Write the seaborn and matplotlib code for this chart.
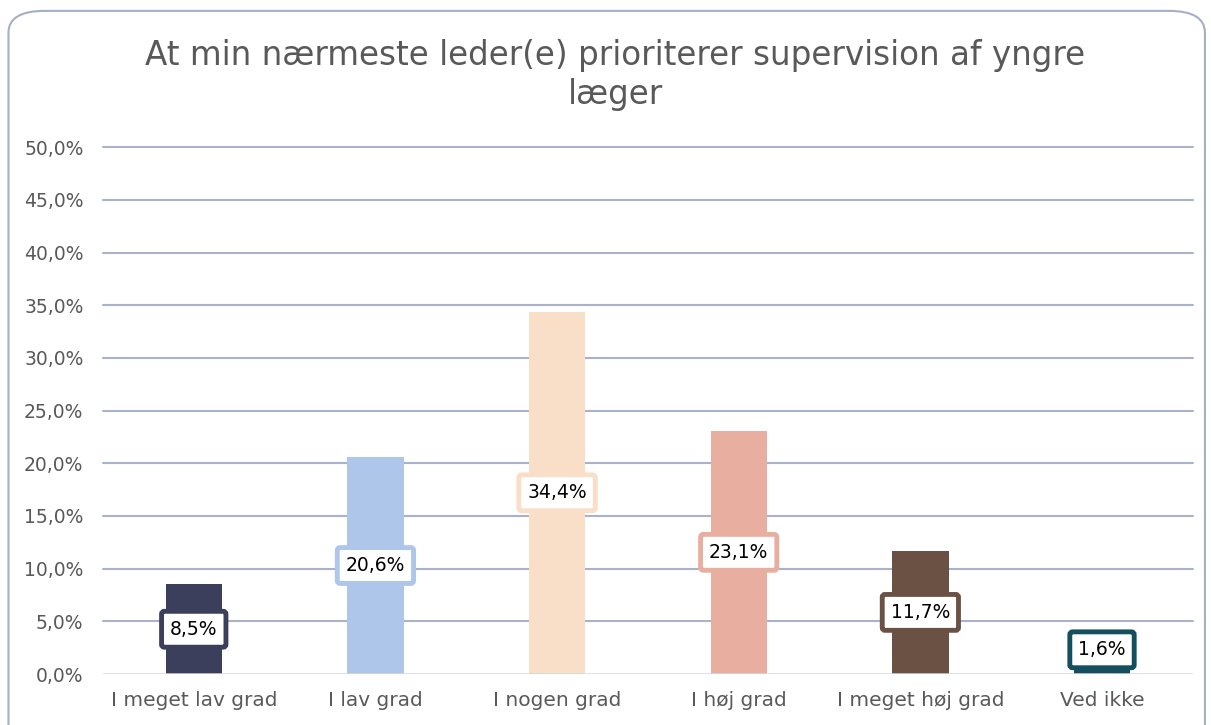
import matplotlib
matplotlib.use("Agg")
import matplotlib.pyplot as plt
import seaborn as sns
import pandas as pd
from matplotlib.patches import FancyBboxPatch

categories = ["I meget lav grad", "I lav grad", "I nogen grad", "I høj grad", "I meget høj grad", "Ved ikke"]
values = [8.5, 20.6, 34.4, 23.1, 11.7, 1.6]
colors = ["#3B3F5C", "#AEC6EA", "#F9DEC8", "#E8AFA0", "#6B5144", "#154E5F"]
yticks = [0, 5, 10, 15, 20, 25, 30, 35, 40, 45, 50]
title = "At min nærmeste leder(e) prioriterer supervision af yngre\nlæger"

sns.set_theme(style="white")
plt.rcParams['font.family'] = ['DejaVu Sans']

fig = plt.figure(figsize=(12.11, 7.25), dpi=100)
ax = fig.add_axes([0.085, 0.0703, 0.900, 0.7267])

df = pd.DataFrame({"cat": categories, "val": values})
sns.barplot(data=df, x="cat", y="val", hue="cat", palette=colors, legend=False,
            width=0.31, ax=ax, saturation=1, zorder=3, linewidth=0, edgecolor="none")

ax.set_ylim(0, 50)
ax.set_yticks(yticks)
ax.set_yticklabels([f"{t:.1f}%".replace(".", ",") for t in yticks], fontsize=13.5, color="#595959")
ax.tick_params(axis="x", labelsize=14.5, colors="#595959", length=0, pad=12)
ax.tick_params(axis="y", length=0, pad=14)
ax.set_xlabel("")
ax.set_ylabel("")
for t in yticks[1:]:
    ax.axhline(t, color="#A9B1CD", lw=1.5, zorder=1, clip_on=False)
ax.axhline(0, color="#D9D9D9", lw=1.8, zorder=4)
for s in ax.spines.values():
    s.set_visible(False)

for i, (v, c) in enumerate(zip(values, colors)):
    y = max(v / 2, 2.3)
    ax.text(i, y, f"{v:.1f}%".replace(".", ","), ha="center", va="center",
            fontsize=13.5, color="black", zorder=6,
            bbox=dict(boxstyle="round,pad=0.45,rounding_size=0.15", fc="white", ec=c, lw=3.5))

fig.text(0.508, 0.8966, title, ha="center", va="center", fontsize=23.5, color="#595959",
         linespacing=1.2)

border = FancyBboxPatch((0.007, -0.05), 0.988, 1.035, boxstyle="round,pad=0,rounding_size=0.03",
                        transform=fig.transFigure, fc="none", ec="#A6AEC8", lw=1.5, zorder=0)
fig.patches.append(border)

fig.savefig("out.png", dpi=100)
